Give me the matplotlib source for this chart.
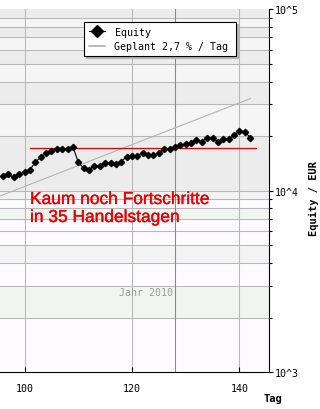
import matplotlib
matplotlib.use("Agg")
import matplotlib.pyplot as plt
import matplotlib.patheffects as pe
from matplotlib.lines import Line2D
from matplotlib.ticker import FixedLocator, FixedFormatter, NullFormatter

# ---- data ----
days = [96, 97, 98, 99, 100, 101, 102, 103, 104, 105, 106, 107, 108, 109, 110,
        111, 112, 113, 114, 115, 116, 117, 118, 119, 120, 121, 122, 123, 124,
        125, 126, 127, 128, 129, 130, 131, 132, 133, 134, 135, 136, 137, 138,
        139, 140, 141, 142]
equity = [11990, 12350, 11840, 12350, 12770, 13040, 14370, 15300, 16090, 16640,
          17000, 17000, 17000, 17510, 14370, 13310, 13040, 13770, 13770, 14310,
          14310, 14010, 14490, 15430, 15560, 15630, 16230, 15760, 15760, 16230,
          16930, 17000, 17510, 17880, 18110, 18340, 19050, 18650, 19620, 19620,
          18650, 19290, 19290, 20280, 21430, 21160, 19620]
plan_days = [95, 142]
plan_values = [9250, 32200]
level_days = [101, 143]
level_value = 17290
marker_day = 128
x_ticks = [100, 120, 140]
x_tick_labels = ["100", "120", "140"]
y_ticks = [1e3, 1e4, 1e5]
y_tick_labels = ["10^3", "10^4", "10^5"]
legend_labels = ["Equity", "Geplant 2,7 % / Tag"]
note_lines = ["Kaum noch Fortschritte", "in 35 Handelstagen"]
year_label = "Jahr 2010"
x_label = "Tag"
y_label = "Equity / EUR"

MONO = "DejaVu Sans Mono"
W, H = 320, 410
fig = plt.figure(figsize=(W / 100, H / 100), dpi=100, facecolor="white")
ax_l, ax_r, ax_t, ax_b = 0, 269, 10.3, 373.3
ax = fig.add_axes([ax_l / W, 1 - ax_b / H, (ax_r - ax_l) / W, (ax_b - ax_t) / H])
ax.set_yscale("log")
ax.set_xlim(95.44, 145.49)
ax.set_ylim(1e3, 1e5)
ax.set_facecolor("white")

# background bands between grid lines
grid_vals = [m * 10 ** e for e in (3, 4) for m in range(1, 10)] + [1e5]
A_l, B_l, A_u, B_u = "#f2f4f2", "#fdfbff", "#ececec", "#f5f5f5"
band_cols = [B_l, A_l, B_l, A_l, B_l, B_l, A_l, B_l, A_l,
             A_u, B_u, A_u, B_u, A_u, B_u, A_u, B_u, A_u]
for lo, hi, c in zip(grid_vals[:-1], grid_vals[1:], band_cols):
    ax.axhspan(lo, hi, facecolor=c, edgecolor="none", lw=0, zorder=0)
for v in grid_vals[1:-1]:
    ax.axhline(v, color="#b8b8b8", lw=0.75, zorder=1, snap=True)
for xv in x_ticks:
    ax.axvline(xv, color="#b8b8b8", lw=0.75, zorder=1, snap=True)
ax.axvline(marker_day, color="#888888", lw=0.75, zorder=1, snap=True)

# series
ax.plot(plan_days, plan_values, color="#b4b4b4", lw=0.8, zorder=2)
ax.plot(level_days, [level_value, level_value], color="#e00000", lw=0.9, zorder=3)
ax.plot(days, equity, color="black", lw=0.8, marker="D", markersize=3.2,
        zorder=4, clip_on=True)

# axes styling
for s in ("left", "top"):
    ax.spines[s].set_visible(False)
for s in ("right", "bottom"):
    ax.spines[s].set_color("black")
    ax.spines[s].set_linewidth(0.8)
ax.xaxis.set_major_locator(FixedLocator(x_ticks))
ax.xaxis.set_major_formatter(FixedFormatter(x_tick_labels))
ax.tick_params(axis="x", direction="in", length=3.6, width=0.8, pad=8,
               labelsize=7.2, colors="black")
ax.yaxis.tick_right()
ax.yaxis.set_major_locator(FixedLocator(y_ticks))
ax.yaxis.set_major_formatter(FixedFormatter(y_tick_labels))
ax.yaxis.set_minor_formatter(NullFormatter())
ax.tick_params(axis="y", which="major", direction="out", length=3, width=0.8,
               pad=1.5, labelsize=7.2, right=True, left=False)
ax.tick_params(axis="y", which="minor", direction="out", length=1.8, width=0.8,
               right=True, left=False)
for lab in ax.get_xticklabels() + ax.get_yticklabels():
    lab.set_fontfamily(MONO)

# legend
handles = [Line2D([], [], color="black", lw=0.8, marker="D", markersize=6.5),
           Line2D([], [], color="#b0b0b0", lw=1.2)]
leg = ax.legend(handles, legend_labels, loc="upper left",
                bbox_to_anchor=(84 / 269, 0, 152 / 269, (ax_b - 23) / (ax_b - ax_t)),
                mode="expand", borderaxespad=0, borderpad=0.45, labelspacing=0.45,
                handlelength=1.6, handletextpad=1.0, fancybox=False,
                framealpha=1, edgecolor="black", facecolor="white",
                prop={"family": MONO, "size": 7.2},
                shadow={"color": "#b4b4b4", "alpha": 1, "ox": 1.6, "oy": -1.6})
leg.get_frame().set_linewidth(0.8)
leg.set_zorder(6)

# texts
thick = [pe.withStroke(linewidth=0.25, foreground="#ee0000")]
fig.text(30 / W, 1 - 205 / H, note_lines[0], color="#ee0000", fontsize=12.5,
         family="Liberation Sans", va="baseline", ha="left", path_effects=thick)
fig.text(30 / W, 1 - 223 / H, note_lines[1], color="#ee0000", fontsize=12.5,
         family="Liberation Sans", va="baseline", ha="left", path_effects=thick)
fig.text(146 / W, 1 - 293 / H, year_label, color="#999999", fontsize=7.2,
         family=MONO, va="center", ha="center")
fig.text(273 / W, 1 - 399 / H, x_label, color="black", fontsize=7.5,
         family=MONO, weight="bold", va="center", ha="center")
fig.text(314 / W, 1 - 199 / H, y_label, color="black", fontsize=7.5,
         family=MONO, weight="bold", va="center", ha="center", rotation=90)

fig.savefig("out.png", dpi=100, facecolor="white")
